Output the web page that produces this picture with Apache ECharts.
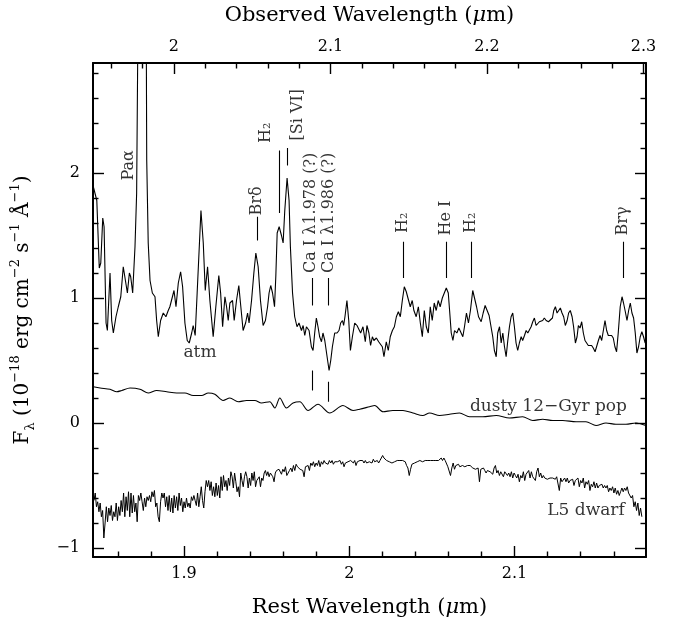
<!DOCTYPE html>
<html><head><meta charset="utf-8">
<script src="https://cdn.jsdelivr.net/npm/echarts@6/dist/echarts.min.js"></script>
<style>html,body{margin:0;padding:0;background:#fff}#c{width:680px;height:627px}</style>
</head><body><div id="c"></div>
<script>
// ---- axis ranges / ticks ----
const redshift = 0.056;
const restMin = 1.845, restMax = 2.1795;
const fluxMin = -1.072, fluxMax = 2.88;
const restMajor = [1.9, 2.0, 2.1];
const restMinor = [1.86, 1.88, 1.92, 1.94, 1.96, 1.98, 2.02, 2.04, 2.06, 2.08, 2.12, 2.14, 2.16];
const obsMajor = [2.0, 2.1, 2.2, 2.3];
const obsMinor = [1.96, 1.98, 2.02, 2.04, 2.06, 2.08, 2.12, 2.14, 2.16, 2.18, 2.22, 2.24, 2.26, 2.28];
const fluxMajor = [-1, 0, 1, 2];
const fluxMinor = [-0.8, -0.6, -0.4, -0.2, 0.2, 0.4, 0.6, 0.8, 1.2, 1.4, 1.6, 1.8, 2.2, 2.4, 2.6, 2.8];

// ---- galaxy spectrum ----
const galWave = [1.8452,1.8456,1.8473,1.8488,1.8497,1.8509,1.8517,1.8529,1.8537,1.8553,
1.8563,1.8573,1.8589,1.8603,1.8618,1.8633,1.8642,1.8658,1.8670,1.8678,
1.8690,1.8704,1.8714,1.8722,1.8745,1.8772,1.8775,1.8784,1.8795,1.8809,
1.8825,1.8835,1.8845,1.8859,1.8875,1.8891,1.8905,1.8915,1.8926,1.8940,
1.8952,1.8966,1.8980,1.8992,1.9006,1.9020,1.9032,1.9047,1.9056,1.9068,
1.9080,1.9103,1.9117,1.9129,1.9143,1.9157,1.9177,1.9193,1.9211,1.9222,
1.9234,1.9248,1.9258,1.9268,1.9278,1.9294,1.9304,1.9318,1.9332,1.9342,
1.9358,1.9373,1.9385,1.9394,1.9409,1.9423,1.9435,1.9449,1.9463,1.9479,
1.9493,1.9506,1.9515,1.9525,1.9536,1.9548,1.9556,1.9564,1.9576,1.9590,
1.9600,1.9610,1.9624,1.9636,1.9644,1.9657,1.9670,1.9684,1.9696,1.9711,
1.9721,1.9731,1.9741,1.9757,1.9771,1.9781,1.9791,1.9801,1.9811,1.9821,
1.9832,1.9841,1.9852,1.9866,1.9878,1.9888,1.9898,1.9912,1.9926,1.9938,
1.9948,1.9959,1.9966,1.9974,1.9986,1.9997,2.0007,2.0019,2.0033,2.0047,
2.0059,2.0069,2.0083,2.0097,2.0107,2.0119,2.0129,2.0140,2.0149,2.0164,
2.0178,2.0190,2.0200,2.0210,2.0224,2.0236,2.0248,2.0261,2.0273,2.0285,
2.0297,2.0309,2.0321,2.0333,2.0345,2.0357,2.0369,2.0381,2.0391,2.0405,
2.0418,2.0430,2.0442,2.0454,2.0466,2.0478,2.0490,2.0502,2.0514,2.0526,
2.0538,2.0550,2.0563,2.0575,2.0587,2.0599,2.0607,2.0617,2.0627,2.0637,
2.0651,2.0663,2.0673,2.0687,2.0697,2.0709,2.0721,2.0733,2.0747,2.0758,
2.0770,2.0782,2.0798,2.0810,2.0822,2.0834,2.0846,2.0858,2.0868,2.0878,
2.0889,2.0898,2.0909,2.0919,2.0929,2.0939,2.0949,2.0959,2.0969,2.0979,
2.0989,2.0999,2.1009,2.1019,2.1029,2.1040,2.1049,2.1060,2.1070,2.1080,
2.1090,2.1100,2.1110,2.1120,2.1130,2.1140,2.1150,2.1161,2.1170,2.1180,
2.1191,2.1205,2.1217,2.1229,2.1237,2.1247,2.1257,2.1267,2.1277,2.1287,
2.1297,2.1307,2.1318,2.1327,2.1337,2.1348,2.1357,2.1368,2.1378,2.1386,
2.1396,2.1406,2.1416,2.1426,2.1436,2.1446,2.1456,2.1466,2.1476,2.1487,
2.1496,2.1507,2.1517,2.1527,2.1537,2.1547,2.1557,2.1567,2.1577,2.1587,
2.1597,2.1607,2.1617,2.1627,2.1639,2.1650,2.1659,2.1670,2.1680,2.1690,
2.1700,2.1710,2.1720,2.1730,2.1740,2.1750,2.1760,2.1770,2.1780,2.1790];
const galFlux = [1.89,1.88,1.78,1.24,1.28,1.64,1.57,0.80,0.74,1.20,
0.82,0.72,0.85,0.93,1.01,1.25,1.26,1.04,1.20,1.17,
1.04,1.41,1.84,3.20,5.50,3.20,2.10,1.44,1.14,1.04,
1.01,0.82,0.69,0.82,0.88,0.85,0.90,0.93,0.94,1.06,
0.93,1.12,1.21,1.09,0.80,0.66,0.64,0.72,0.78,0.70,
1.04,1.70,1.44,1.06,1.25,0.98,0.69,0.93,1.18,1.04,
0.77,1.01,0.93,0.82,0.96,0.98,0.82,0.98,1.10,0.96,
0.74,0.80,0.88,0.80,0.98,1.20,1.36,1.25,0.98,0.78,
0.82,0.93,1.04,1.10,1.04,0.93,1.18,1.52,1.57,1.50,
1.44,1.70,1.96,1.78,1.41,1.04,0.85,0.77,0.80,0.74,
0.78,0.70,0.77,0.74,0.61,0.58,0.72,0.84,0.77,0.69,
0.65,0.72,0.66,0.53,0.42,0.50,0.61,0.72,0.72,0.74,
0.80,0.82,0.78,0.85,0.98,0.82,0.58,0.69,0.80,0.78,
0.77,0.72,0.77,0.65,0.78,0.72,0.62,0.69,0.66,0.68,
0.65,0.66,0.61,0.53,0.65,0.58,0.69,0.74,0.77,0.85,
0.89,0.85,0.98,1.09,1.05,1.04,0.93,0.98,0.90,0.85,
0.93,0.80,0.69,0.90,0.77,0.72,0.93,0.82,0.96,0.90,
0.98,0.93,1.00,1.04,1.08,1.04,0.90,0.72,0.66,0.74,
0.72,0.76,0.76,0.69,0.77,0.88,0.80,0.90,1.06,1.05,
0.93,0.85,0.81,0.88,0.94,0.90,0.86,0.85,0.69,0.58,
0.53,0.72,0.77,0.64,0.72,0.61,0.53,0.66,0.77,0.85,
0.88,0.77,0.64,0.58,0.64,0.69,0.66,0.70,0.74,0.72,
0.73,0.77,0.81,0.84,0.78,0.77,0.81,0.81,0.82,0.84,
0.82,0.81,0.81,0.84,0.90,0.93,0.88,0.90,0.92,0.88,
0.85,0.78,0.82,0.88,0.90,0.85,0.77,0.64,0.69,0.78,
0.76,0.81,0.72,0.66,0.64,0.62,0.61,0.62,0.60,0.57,
0.61,0.66,0.70,0.66,0.74,0.82,0.74,0.70,0.70,0.70,
0.68,0.61,0.57,0.72,0.93,1.01,0.96,0.89,0.82,0.90,
0.96,0.88,0.84,0.72,0.56,0.61,0.69,0.73,0.69,0.64];

// ---- dusty 12-Gyr population ----
const dustyWave = [1.8452,1.8493,1.8553,1.8594,1.8624,1.8674,1.8734,1.8784,1.8835,1.8896,
1.8956,1.9006,1.9056,1.9107,1.9147,1.9187,1.9237,1.9278,1.9328,1.9379,
1.9429,1.9469,1.9519,1.9550,1.9580,1.9620,1.9660,1.9701,1.9751,1.9811,
1.9882,1.9962,2.0023,2.0063,2.0123,2.0154,2.0204,2.0264,2.0325,2.0385,
2.0445,2.0486,2.0546,2.0607,2.0667,2.0727,2.0808,2.0889,2.0969,2.1049,
2.1110,2.1170,2.1231,2.1291,2.1372,2.1432,2.1493,2.1553,2.1613,2.1674,
2.1734,2.1794];
const dustyFlux = [0.29,0.28,0.27,0.25,0.26,0.28,0.27,0.24,0.26,0.25,
0.24,0.24,0.22,0.22,0.24,0.23,0.18,0.20,0.17,0.18,
0.18,0.16,0.17,0.12,0.20,0.12,0.16,0.17,0.10,0.15,
0.08,0.14,0.10,0.11,0.13,0.14,0.09,0.10,0.10,0.08,
0.06,0.08,0.06,0.07,0.08,0.05,0.05,0.06,0.04,0.05,
0.02,0.03,0.02,0.02,0.01,0.01,-0.02,0.00,-0.01,-0.01,
0.00,-0.02];

// ---- L5 dwarf (three evenly sampled pieces: start, end wavelength + fluxes) ----
const dwarfA = {start:1.8456, end:1.9575, flux:[-0.62,-0.56,-0.67,-0.63,-0.71,-0.64,-0.75,-0.70,-0.92,-0.80,
-0.67,-0.79,-0.68,-0.74,-0.66,-0.78,-0.71,-0.75,-0.64,-0.78,
-0.67,-0.74,-0.62,-0.71,-0.56,-0.75,-0.59,-0.70,-0.55,-0.75,
-0.56,-0.72,-0.58,-0.71,-0.64,-0.79,-0.58,-0.62,-0.56,-0.63,
-0.70,-0.60,-0.67,-0.59,-0.62,-0.58,-0.63,-0.55,-0.59,-0.54,
-0.67,-0.64,-0.75,-0.79,-0.63,-0.56,-0.60,-0.56,-0.67,-0.59,
-0.70,-0.58,-0.71,-0.60,-0.72,-0.58,-0.68,-0.59,-0.70,-0.56,
-0.66,-0.60,-0.71,-0.63,-0.68,-0.60,-0.67,-0.64,-0.68,-0.59,
-0.62,-0.58,-0.62,-0.66,-0.56,-0.67,-0.59,-0.51,-0.62,-0.68,
-0.55,-0.46,-0.51,-0.46,-0.54,-0.47,-0.58,-0.51,-0.59,-0.48,
-0.58,-0.50,-0.60,-0.43,-0.54,-0.42,-0.51,-0.46,-0.54,-0.44,
-0.50,-0.39,-0.43,-0.52,-0.40,-0.47,-0.55,-0.51,-0.59,-0.40,
-0.46,-0.51,-0.43,-0.39,-0.43,-0.52,-0.44,-0.50,-0.40,-0.46,
-0.39,-0.51,-0.46,-0.47,-0.43,-0.51,-0.44,-0.46,-0.40,-0.38,
-0.42,-0.39,-0.43,-0.40,-0.39,-0.43,-0.47,-0.40,-0.38,-0.39,-0.37]};
const dwarfB = {start:1.9582, end:2.0693, flux:[-0.36,-0.41,-0.37,-0.39,-0.35,-0.42,-0.43,-0.38,-0.36,-0.39,
-0.34,-0.38,-0.33,-0.35,-0.34,-0.37,-0.36,-0.38,-0.43,-0.35,
-0.36,-0.34,-0.38,-0.32,-0.34,-0.31,-0.35,-0.32,-0.34,-0.30,
-0.35,-0.31,-0.33,-0.30,-0.32,-0.31,-0.33,-0.30,-0.32,-0.30,
-0.33,-0.31,-0.32,-0.31,-0.32,-0.30,-0.33,-0.31,-0.35,-0.32,
-0.33,-0.31,-0.32,-0.30,-0.30,-0.32,-0.30,-0.34,-0.31,-0.32,
-0.30,-0.31,-0.30,-0.32,-0.30,-0.32,-0.31,-0.31,-0.30,-0.32,
-0.29,-0.31,-0.31,-0.30,-0.32,-0.30,-0.29,-0.26,-0.28,-0.29,
-0.30,-0.30,-0.31,-0.31,-0.32,-0.32,-0.31,-0.30,-0.30,-0.30,
-0.30,-0.31,-0.30,-0.31,-0.31,-0.34,-0.36,-0.42,-0.37,-0.33,
-0.34,-0.32,-0.33,-0.31,-0.30,-0.30,-0.30,-0.31,-0.30,-0.30,
-0.29,-0.30,-0.30,-0.30,-0.30,-0.30,-0.30,-0.30,-0.31,-0.30,
-0.30,-0.28,-0.30,-0.28,-0.30,-0.30,-0.35,-0.34,-0.42,-0.36,
-0.32,-0.37,-0.34,-0.35,-0.33,-0.35,-0.34,-0.34,-0.35]};
const dwarfC = {start:2.0699, end:2.1770, flux:[-0.35,-0.35,-0.34,-0.34,-0.34,-0.35,-0.36,-0.36,-0.37,-0.36,
-0.36,-0.47,-0.37,-0.38,-0.36,-0.38,-0.40,-0.38,-0.37,-0.39,
-0.38,-0.41,-0.36,-0.34,-0.40,-0.38,-0.42,-0.39,-0.38,-0.43,
-0.39,-0.39,-0.42,-0.40,-0.43,-0.39,-0.44,-0.40,-0.42,-0.44,
-0.41,-0.47,-0.42,-0.44,-0.39,-0.46,-0.41,-0.42,-0.38,-0.44,
-0.39,-0.43,-0.42,-0.46,-0.39,-0.36,-0.43,-0.40,-0.44,-0.42,
-0.44,-0.43,-0.45,-0.44,-0.44,-0.43,-0.44,-0.44,-0.45,-0.43,
-0.42,-0.54,-0.44,-0.47,-0.46,-0.44,-0.47,-0.44,-0.48,-0.46,
-0.47,-0.45,-0.50,-0.46,-0.47,-0.44,-0.51,-0.46,-0.48,-0.44,
-0.52,-0.47,-0.49,-0.46,-0.54,-0.49,-0.51,-0.47,-0.52,-0.48,
-0.52,-0.50,-0.51,-0.49,-0.52,-0.50,-0.52,-0.50,-0.55,-0.52,
-0.54,-0.51,-0.56,-0.52,-0.57,-0.54,-0.58,-0.55,-0.52,-0.55,
-0.52,-0.54,-0.51,-0.56,-0.55,-0.60,-0.58,-0.67,-0.63,-0.70,
-0.64,-0.74,-0.68,-0.75]};

// ---- annotations ----
const tickMarks = [ // [wavelength, top, bottom]
  [1.9444,1.65,1.46],[1.9574,2.18,1.68],[1.9626,2.20,2.06],
  [1.9776,1.16,0.94],[1.9874,1.16,0.94],[1.9776,0.42,0.26],[1.9874,0.33,0.17],
  [2.0327,1.45,1.16],[2.0587,1.45,1.16],[2.0738,1.45,1.16],[2.1656,1.45,1.16]];
const lineLabels = [ // [wavelength, flux at text start, text]
  [1.8664,1.94,'Paα'],[1.9443,1.66,'Brδ'],[1.9493,2.24,'H₂'],[1.9689,2.26,'[Si VI]'],
  [1.9767,1.20,'Ca I λ1.978 (?)'],[1.9876,1.20,'Ca I λ1.986 (?)'],
  [2.0325,1.52,'H₂'],[2.0587,1.50,'He I'],[2.0738,1.52,'H₂'],[2.1656,1.50,'Brγ']];
const plainLabels = [[1.9097,0.56,'atm'],[2.1205,0.13,'dusty 12−Gyr pop'],[2.1432,-0.70,'L5 dwarf']];

// ---- build ----
const FONT = 'DejaVu Serif';
function zip(w, f){ return w.map((x,i)=>[x,f[i]]); }
function piece(p){ const n=p.flux.length, st=(p.end-p.start)/(n-1); return p.flux.map((v,i)=>[p.start+i*st, v]); }
const dwarfData = piece(dwarfA).concat(piece(dwarfB), piece(dwarfC));
const fmtW = v => String(Math.round(v*10)/10);
const fmtF = v => v < 0 ? '−' + Math.abs(v) : String(v);
const lineSt = {color:'#000', width:1.1};
const gridBox = {left:93, right:34, top:63, bottom:70};
const frame = {show:true, onZero:false, lineStyle:{color:'#000', width:2}};
const labelFont = {color:'#000', fontFamily:FONT, fontSize:16};
const nameStyle = {color:'#000', fontFamily:FONT, fontSize:21, rich:{i:{fontStyle:'italic', fontFamily:FONT, fontSize:21, color:'#000'}}};

function majorAxis(o){ return Object.assign({type:'value', splitLine:{show:false}, axisLine:frame,
  axisTick:{show:true, inside:true, length:11, customValues:o.ticks, lineStyle:{color:'#000', width:1.4}},
  axisLabel:o.labels ? Object.assign({show:true, customValues:o.ticks, formatter:o.fmt, margin:o.margin}, labelFont) : {show:false}
}, o.ext); }
function minorAxis(o){ return Object.assign({type:'value', gridIndex:1, splitLine:{show:false}, axisLine:{show:false, onZero:false},
  axisTick:{show:true, inside:true, length:5.5, customValues:o.ticks, lineStyle:{color:'#000', width:1.4}},
  axisLabel:{show:false}}, o.ext); }

const option = {
  animation:false,
  backgroundColor:'#fff',
  grid:[Object.assign({}, gridBox), Object.assign({}, gridBox)],
  xAxis:[
    majorAxis({ticks:restMajor, labels:true, fmt:fmtW, margin:9, ext:{gridIndex:0, position:'bottom', min:restMin, max:restMax,
      name:'Rest Wavelength ({i|μ}m)', nameLocation:'middle', nameGap:40, nameTextStyle:nameStyle}}),
    majorAxis({ticks:obsMajor, labels:true, fmt:fmtW, margin:8, ext:{gridIndex:0, position:'top', min:restMin*(1+redshift), max:restMax*(1+redshift),
      name:'Observed Wavelength ({i|μ}m)', nameLocation:'middle', nameGap:37, nameTextStyle:nameStyle}}),
    minorAxis({ticks:restMinor, ext:{position:'bottom', min:restMin, max:restMax}}),
    minorAxis({ticks:obsMinor, ext:{position:'top', min:restMin*(1+redshift), max:restMax*(1+redshift)}})
  ],
  yAxis:[
    majorAxis({ticks:fluxMajor, labels:true, fmt:fmtF, margin:13, ext:{gridIndex:0, position:'left', min:fluxMin, max:fluxMax,
      name:'{a|F}{s|λ}{a| (10}{p|−18}{a| erg cm}{p|−2}{a| s}{p|−1}{a| Å}{p|−1}{a|)}', nameLocation:'middle', nameGap:56,
      nameTextStyle:{color:'#000', fontFamily:FONT, fontSize:20, rich:{
        a:{fontFamily:FONT, fontSize:20, color:'#000', lineHeight:28},
        s:{fontFamily:FONT, fontSize:13, color:'#000', verticalAlign:'bottom', lineHeight:28},
        p:{fontFamily:FONT, fontSize:13, color:'#000', verticalAlign:'top', lineHeight:28}}}}}),
    majorAxis({ticks:fluxMajor, labels:false, ext:{gridIndex:0, position:'right', min:fluxMin, max:fluxMax}}),
    minorAxis({ticks:fluxMinor, ext:{position:'left', min:fluxMin, max:fluxMax}}),
    minorAxis({ticks:fluxMinor, ext:{position:'right', min:fluxMin, max:fluxMax}})
  ],
  series:[
    {type:'line', name:'galaxy', xAxisIndex:0, yAxisIndex:0, data:zip(galWave, galFlux), showSymbol:false, symbol:'none',
      lineStyle:lineSt, clip:true, silent:true,
      markLine:{silent:true, symbol:['none','none'], animation:false, label:{show:false},
        lineStyle:{color:'#000', width:1.1, type:'solid'},
        data:tickMarks.map(t=>[{coord:[t[0],t[1]]},{coord:[t[0],t[2]]}])}},
    {type:'line', name:'dusty', xAxisIndex:0, yAxisIndex:0, data:zip(dustyWave, dustyFlux), showSymbol:false, symbol:'none',
      smooth:0.3, lineStyle:lineSt, silent:true},
    {type:'line', name:'dwarf', xAxisIndex:0, yAxisIndex:0, data:dwarfData, showSymbol:false, symbol:'none',
      lineStyle:{color:'#000', width:1}, silent:true},
    {type:'scatter', xAxisIndex:0, yAxisIndex:0, symbolSize:0, silent:true, data:lineLabels,
      label:{show:true, position:[0,0], rotate:90, align:'left', verticalAlign:'middle', formatter:p=>p.data[2],
        color:'#000', fontFamily:FONT, fontSize:16}},
    {type:'scatter', xAxisIndex:0, yAxisIndex:0, symbolSize:0, silent:true, data:plainLabels,
      label:{show:true, position:[0,0], align:'center', verticalAlign:'middle', formatter:p=>p.data[2],
        color:'#000', fontFamily:FONT, fontSize:17}}
  ]
};
const chart = echarts.init(document.getElementById('c'));
chart.setOption(option);
</script></body></html>
